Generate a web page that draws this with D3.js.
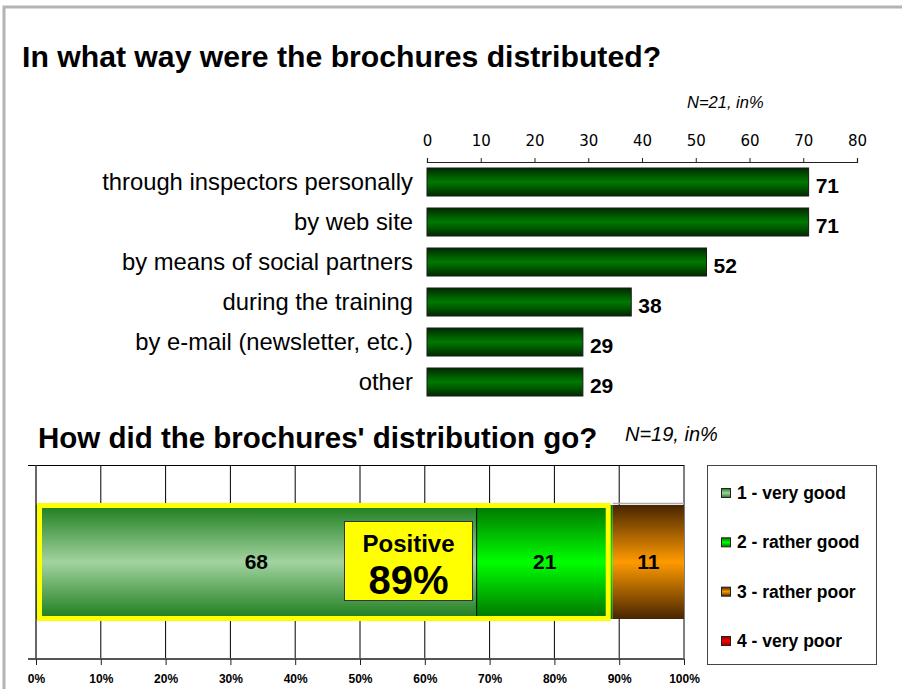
<!DOCTYPE html>
<html><head><meta charset="utf-8">
<script src="https://cdn.jsdelivr.net/npm/d3@7"></script>
<style>body{margin:0;background:#fff}svg{display:block}</style>
</head><body>
<svg id="c" width="902" height="689"></svg>
<script>
// ---- data ----
const categories = ["through inspectors personally","by web site","by means of social partners","during the training","by e-mail (newsletter, etc.)","other"];
const values = [71,71,52,38,29,29];
const topTicks = [0,10,20,30,40,50,60,70,80];
const ratingLabels = ["1 - very good","2 - rather good","3 - rather poor","4 - very poor"];
const ratingValues = [68,21,11,0];
const pctTicks = [0,10,20,30,40,50,60,70,80,90,100];
const positiveValue = 89;

(function(){
const svg = d3.select("#c");
const F = "'Liberation Sans', Arial, sans-serif";
const defs = svg.append("defs");
function grad(id, edge, mid){
  const g = defs.append("linearGradient").attr("id",id).attr("x1",0).attr("y1",0).attr("x2",0).attr("y2",1);
  g.append("stop").attr("offset","0%").attr("stop-color",edge);
  g.append("stop").attr("offset","50%").attr("stop-color",mid);
  g.append("stop").attr("offset","100%").attr("stop-color",edge);
}
grad("gTop","#002a00","#007a00");
grad("g1","#1c7d1c","#a2d3a0");
grad("g2","#007300","#00ff00");
grad("g3","#472500","#ff9a00");
grad("g4","#8a0000","#ff0000");
const segFills = ["url(#g1)","url(#g2)","url(#g3)","url(#g4)"];

// frame
svg.append("path").attr("d","M4,689V7H902").attr("fill","none").attr("stroke","#b4b4b4").attr("stroke-width",3);

// titles
svg.append("text").attr("x",22).attr("y",67).attr("font-family",F).attr("font-weight","bold").attr("font-size",30.2).text("In what way were the brochures distributed?");
svg.append("text").attr("x",687).attr("y",108).attr("font-family",F).attr("font-style","italic").attr("font-size",16.5).text("N=21, in%");

// ---- top chart ----
const x = d3.scaleLinear().domain([0,80]).range([427,857]);
const y = d3.scaleBand().domain(categories).range([162,402]).paddingInner(0.3).paddingOuter(0.15);

const ax = svg.append("g").attr("transform","translate(0,162)")
  .call(d3.axisTop(x).tickValues(topTicks).tickSize(4).tickPadding(12));
ax.select(".domain").attr("stroke","#222").attr("stroke-width",1.2);
ax.selectAll(".tick line").attr("stroke","#222");
ax.selectAll("text").attr("font-family","'DejaVu Sans', Verdana, sans-serif").attr("font-size",15).attr("fill","#000");

svg.append("g").selectAll("rect").data(values).join("rect")
  .attr("x",x(0)).attr("y",(d,i)=>y(categories[i]))
  .attr("width",d=>x(d)-x(0)).attr("height",y.bandwidth())
  .attr("fill","url(#gTop)").attr("stroke","#1a1a1a").attr("stroke-width",1);

svg.append("g").selectAll("text").data(values).join("text")
  .attr("x",d=>x(d)+7).attr("y",(d,i)=>y(categories[i])+25)
  .attr("font-family",F).attr("font-weight","bold").attr("font-size",21).text(d=>d);

svg.append("g").selectAll("text").data(categories).join("text")
  .attr("x",413).attr("y",d=>y(d)+22).attr("text-anchor","end")
  .attr("font-family",F).attr("font-size",23.8).text(d=>d);

// ---- bottom chart ----
svg.append("text").attr("x",38).attr("y",448).attr("font-family",F).attr("font-weight","bold").attr("font-size",29.5).text("How did the brochures' distribution go?");
svg.append("text").attr("x",625).attr("y",441).attr("font-family",F).attr("font-style","italic").attr("font-size",20).text("N=19, in%");

const px = d3.scaleLinear().domain([0,100]).range([36,684]);
const py = d3.scaleBand().domain(["r"]).range([465,659]).paddingInner(0).paddingOuter(0.3509);
const pTop = 465, pBot = 659;

// gridlines
svg.append("g").selectAll("line").data(pctTicks.slice(1)).join("line")
  .attr("x1",d=>px(d)).attr("x2",d=>px(d)).attr("y1",pTop).attr("y2",pBot)
  .attr("stroke","#000").attr("stroke-width",1);
svg.append("line").attr("x1",28).attr("x2",px(100)).attr("y1",pTop+0.5).attr("y2",pTop+0.5).attr("stroke","#000");

// segments
let cum = 0;
const segs = ratingValues.map((v,i)=>{const s={v,i,x0:cum,x1:cum+v};cum+=v;return s;});
svg.append("g").selectAll("rect").data(segs.filter(s=>s.v>0)).join("rect")
  .attr("x",s=>px(s.x0)).attr("width",s=>px(s.x1)-px(s.x0))
  .attr("y",py("r")).attr("height",py.bandwidth())
  .attr("fill",s=>segFills[s.i]);
svg.append("line").attr("x1",px(segs[2].x0)).attr("x2",px(100)).attr("y1",py("r")-1.5).attr("y2",py("r")-1.5).attr("stroke","#aaa").attr("stroke-width",1.5);
svg.append("line").attr("x1",px(68)).attr("x2",px(68)).attr("y1",py("r")).attr("y2",py("r")+py.bandwidth()).attr("stroke","#000").attr("stroke-width",1);

// positive outline
svg.append("rect").attr("x",px(0)+3.5).attr("y",py("r")+0.5)
  .attr("width",px(positiveValue)-px(0)-8).attr("height",py.bandwidth()-1)
  .attr("fill","none").attr("stroke","#ffff00").attr("stroke-width",5);

// segment labels
svg.append("g").selectAll("text").data(segs.filter(s=>s.v>0)).join("text")
  .attr("x",s=>(px(s.x0)+px(s.x1))/2).attr("y",py("r")+py.bandwidth()/2+7)
  .attr("text-anchor","middle").attr("font-family",F).attr("font-weight","bold").attr("font-size",21)
  .text(s=>s.v);

// positive box
svg.append("rect").attr("x",344.5).attr("y",521.5).attr("width",128).attr("height",79)
  .attr("fill","#ffff00").attr("stroke","#333").attr("stroke-width",1);
svg.append("text").attr("x",408.5).attr("y",552).attr("text-anchor","middle").attr("font-family",F).attr("font-weight","bold").attr("font-size",24).text("Positive");
svg.append("text").attr("x",408.5).attr("y",594).attr("text-anchor","middle").attr("font-family",F).attr("font-weight","bold").attr("font-size",40).text(positiveValue+"%");

// left axis line
svg.append("line").attr("x1",36).attr("x2",36).attr("y1",pTop).attr("y2",pBot).attr("stroke","#333").attr("stroke-width",1.5);

// bottom axis
const bx = svg.append("g").attr("transform",`translate(0,${pBot})`)
  .call(d3.axisBottom(px).tickValues(pctTicks).tickSize(6).tickSizeOuter(0).tickPadding(9).tickFormat(d=>d+"%"));
bx.select(".domain").attr("d",`M28,0H${px(100)}`).attr("stroke","#555").attr("stroke-width",2);
bx.selectAll(".tick line").attr("stroke","#222");
bx.selectAll("text").attr("font-family",F).attr("font-weight","bold").attr("font-size",12).attr("fill","#000");

// legend
const lg = svg.append("g");
lg.append("rect").attr("x",707.5).attr("y",465.5).attr("width",169).attr("height",199).attr("fill","#fff").attr("stroke","#444");
const ly = d3.scalePoint().domain(ratingLabels).range([493,641]);
lg.selectAll("rect.sw").data(ratingLabels).join("rect").attr("class","sw")
  .attr("x",721.5).attr("y",d=>ly(d)-4.5).attr("width",9).attr("height",9)
  .attr("fill",(d,i)=>segFills[i]).attr("stroke","#222").attr("stroke-width",1);
lg.selectAll("text").data(ratingLabels).join("text")
  .attr("x",737).attr("y",d=>ly(d)+6).attr("font-family",F).attr("font-weight","bold").attr("font-size",17.5).text(d=>d);
})();
</script>
</body></html>
